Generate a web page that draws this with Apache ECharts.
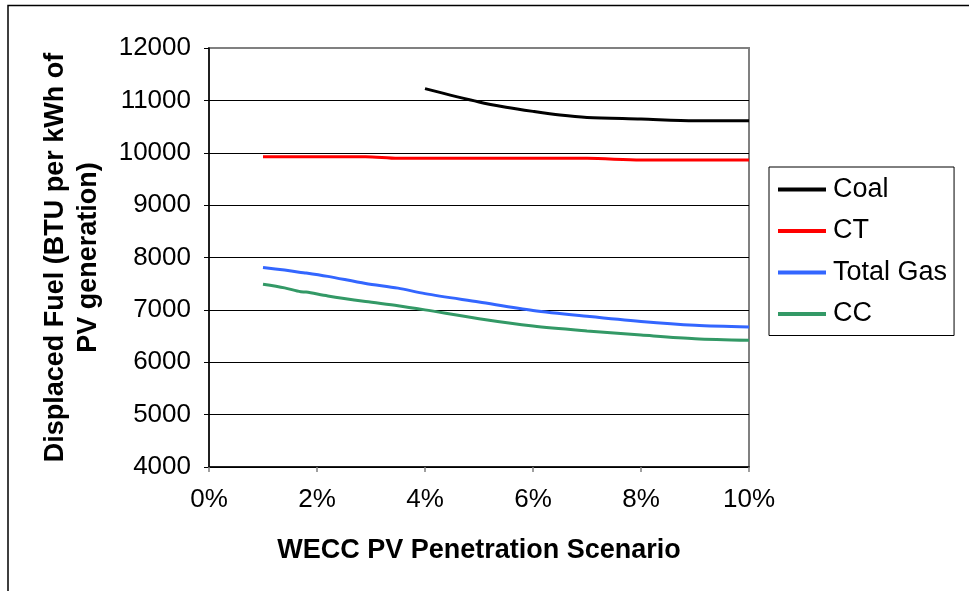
<!DOCTYPE html>
<html>
<head>
<meta charset="utf-8">
<script src="https://cdn.jsdelivr.net/npm/echarts@6/dist/echarts.min.js"></script>
<style>html,body{margin:0;padding:0;background:#fff}#c{width:969px;height:591px}</style>
</head>
<body>
<div id="c"></div>
<script>
// Data (x = PV penetration in %, y = BTU per kWh)
const coalX = [4, 5, 5.5, 6, 6.5, 7, 8, 9, 10];
const coalY = [11225, 10970, 10870, 10790, 10720, 10675, 10645, 10612, 10612];
const ctX = [1, 2, 2.9, 3.5, 7, 8, 10];
const ctY = [9925, 9925, 9925, 9893, 9893, 9862, 9862];
const gasX = [1, 1.4, 1.7, 1.8, 2.2, 2.9, 3.5, 4, 5, 6, 7, 8, 9, 10];
const totalGasY = [7810, 7760, 7715, 7705, 7640, 7505, 7415, 7310, 7150, 6990, 6877, 6778, 6705, 6672];
const ccY = [7490, 7420, 7345, 7340, 7265, 7160, 7080, 7000, 6830, 6690, 6597, 6520, 6450, 6420];
const seriesNames = ['Coal', 'CT', 'Total Gas', 'CC'];
const xTicks = [0, 2, 4, 6, 8, 10];
const yTicks = [4000, 5000, 6000, 7000, 8000, 9000, 10000, 11000, 12000];

const zip = (xs, ys) => xs.map((x, i) => [x, ys[i]]);
const colors = ['#000000', '#FF0000', '#3366FF', '#339966'];
const seriesData = [zip(coalX, coalY), zip(ctX, ctY), zip(gasX, totalGasY), zip(gasX, ccY)];
const FONT = 'Liberation Sans, Arial, sans-serif';

const chart = echarts.init(document.getElementById('c'), null, {renderer: 'canvas'});
chart.setOption({
  animation: false,
  backgroundColor: '#ffffff',
  textStyle: {fontFamily: FONT},
  graphic: [{
    type: 'polyline',
    shape: {points: [[8, 591], [8, 5.5], [969, 5.5]]},
    style: {stroke: '#000', lineWidth: 1.5, fill: null},
    silent: true
  }],
  grid: {
    left: 209, top: 48, right: 220, bottom: 124,
    show: true, borderColor: '#808080', borderWidth: 2, backgroundColor: '#fff'
  },
  legend: {
    orient: 'vertical',
    left: 769, top: 167,
    padding: [9, 7, 8, 9],
    borderColor: '#000', borderWidth: 1,
    icon: 'rect', itemWidth: 48, itemHeight: 4,
    itemGap: 14.5,
    data: seriesNames,
    textStyle: {fontSize: 27, lineHeight: 27, color: '#000', fontFamily: FONT, padding: [0, 0, 0, 2]}
  },
  xAxis: {
    type: 'value', min: xTicks[0], max: xTicks[xTicks.length - 1], interval: 2,
    name: 'WECC PV Penetration Scenario',
    nameLocation: 'middle', nameGap: 70,
    nameTextStyle: {fontSize: 27, fontWeight: 'bold', color: '#000', fontFamily: FONT},
    axisLine: {show: true, onZero: false, lineStyle: {color: '#000', width: 1.5}},
    axisTick: {show: true, inside: false, length: 5, lineStyle: {color: '#808080', width: 1.5}},
    axisLabel: {fontSize: 26, color: '#000', margin: 20, formatter: '{value}%', fontFamily: FONT},
    splitLine: {show: false}
  },
  yAxis: {
    type: 'value', min: yTicks[0], max: yTicks[yTicks.length - 1], interval: 1000,
    name: 'Displaced Fuel (BTU per kWh of\nPV generation)',
    nameLocation: 'middle', nameGap: 104, nameRotate: 90,
    nameTextStyle: {fontSize: 27, fontWeight: 'bold', color: '#000', lineHeight: 33, fontFamily: FONT},
    axisLine: {show: true, lineStyle: {color: '#000', width: 1.5}},
    axisTick: {show: true, inside: false, length: 5, lineStyle: {color: '#000', width: 1}},
    axisLabel: {fontSize: 26, color: '#000', margin: 18, fontFamily: FONT, formatter: v => String(v)},
    splitLine: {show: true, lineStyle: {color: ['#000','#000','#000','#000','#000','#000','#000','#000','#808080'], width: 1}}
  },
  series: seriesNames.map((n, i) => ({
    name: n, type: 'line', data: seriesData[i],
    symbol: 'none', smooth: 0.3,
    lineStyle: {color: colors[i], width: 3},
    itemStyle: {color: colors[i]},
    z: 5 - i
  }))
});
</script>
</body>
</html>
